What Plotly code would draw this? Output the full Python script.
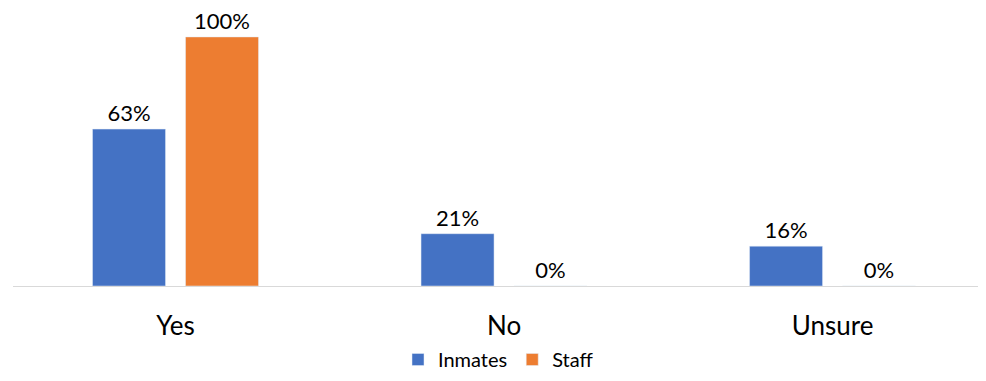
import plotly.graph_objects as go

categories = ["Yes", "No", "Unsure"]
inmates = [0.63, 0.21, 0.16]
staff = [1.00, 0.00, 0.00]
inmates_labels = ["63%", "21%", "16%"]
staff_labels = ["100%", "0%", "0%"]

FONT = "Lato, 'Open Sans', sans-serif"

fig = go.Figure()
fig.add_trace(go.Bar(
    x=categories, y=inmates, name="Inmates", marker_color="#4472C4",
    text=inmates_labels, textposition="outside", cliponaxis=False,
    textfont=dict(size=22, color="#000000", family=FONT),
))
fig.add_trace(go.Bar(
    x=categories, y=staff, name="Staff", marker_color="#ED7D31",
    text=staff_labels, textposition="outside", cliponaxis=False,
    textfont=dict(size=22, color="#000000", family=FONT),
))

fig.update_layout(
    width=976, height=365,
    margin=dict(l=5, r=0, t=9, b=87, autoexpand=False),
    paper_bgcolor="white", plot_bgcolor="white",
    barmode="group", bargap=0.4338, bargroupgap=0.215,
    font=dict(family=FONT, color="#000000"),
    showlegend=True,
    legend=dict(orientation="h", x=0.5, xanchor="center",
                yref="container", y=0.037, yanchor="middle",
                font=dict(size=20, color="#000000", family=FONT),
                tracegroupgap=0),
)
fig.update_xaxes(showline=True, linecolor="#D9D9D9", linewidth=1,
                 showgrid=False, zeroline=False, automargin=False,
                 range=[-0.4947, 2.461],
                 ticks="outside", ticklen=17, tickcolor="rgba(0,0,0,0)",
                 tickfont=dict(size=26, color="#000000", family=FONT))
fig.update_yaxes(visible=False, range=[0, 1.08], showgrid=False, zeroline=False)

fig.write_html("out.html")
